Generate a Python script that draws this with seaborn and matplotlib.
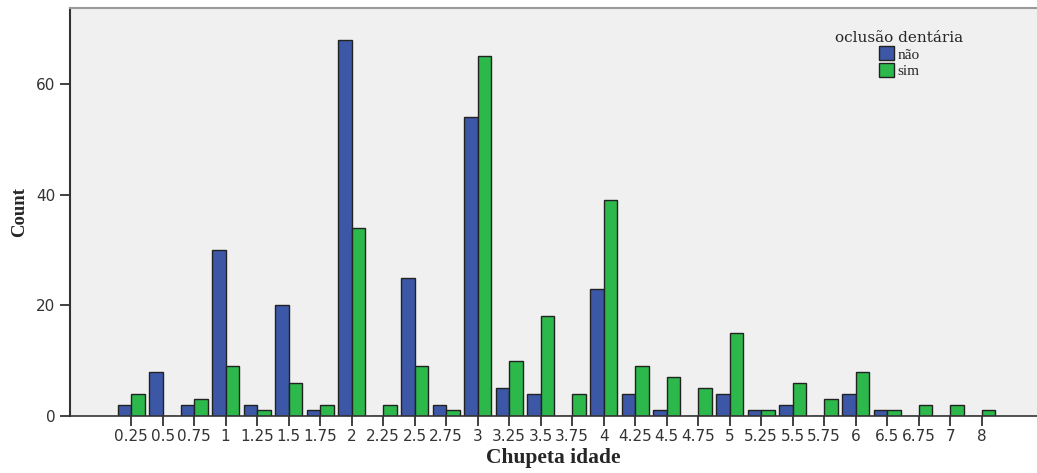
import matplotlib
matplotlib.use('Agg')
import matplotlib.pyplot as plt
import pandas as pd
import seaborn as sns

ages = ['0.25', '0.5', '0.75', '1', '1.25', '1.5', '1.75', '2', '2.25', '2.5',
        '2.75', '3', '3.25', '3.5', '3.75', '4', '4.25', '4.5', '4.75', '5',
        '5.25', '5.5', '5.75', '6', '6.5', '6.75', '7', '8']
nao = [2, 8, 2, 30, 2, 20, 1, 68, 0, 25, 2, 54, 5, 4, 0, 23, 4, 1, 0, 4,
       1, 2, 0, 4, 1, 0, 0, 0]
sim = [4, 0, 3, 9, 1, 6, 2, 34, 2, 9, 1, 65, 10, 18, 4, 39, 9, 7, 5, 15,
       1, 6, 3, 8, 1, 2, 2, 1]
groups = ['não', 'sim']
colors = ['#3d57a7', '#2db84b']

df = pd.DataFrame({
    'idade': ages * 2,
    'count': nao + sim,
    'oclusão dentária': ['não'] * len(ages) + ['sim'] * len(ages),
})

sns.set_style('white')
fig = plt.figure(figsize=(10.37, 4.73), dpi=100)
ax = fig.add_axes([70 / 1037, 1 - 416 / 473, 967 / 1037, 408 / 473])
ax.set_facecolor('#f0f0f0')

sns.barplot(data=df, x='idade', y='count', hue='oclusão dentária',
            order=ages, hue_order=groups, palette=colors, width=0.86,
            edgecolor='#222222', linewidth=1.0, saturation=1, ax=ax)

ax.set_xlim(-1.94, 28.76)
ax.set_ylim(0, 73.7)
ax.set_yticks([0, 20, 40, 60])
ax.tick_params(axis='both', direction='out', length=7, width=1.3,
               bottom=True, left=True,
               color='#333333', labelsize=11, labelcolor='#333333')
ax.tick_params(axis='x', pad=2)
for name, sp in ax.spines.items():
    sp.set_color('#333333')
ax.spines['right'].set_visible(False)
ax.spines['left'].set_linewidth(1.5)
ax.spines['bottom'].set_linewidth(1.2)
ax.spines['top'].set_color('#999999')
ax.spines['top'].set_linewidth(1.5)

ax.set_xlabel('Chupeta idade', fontsize=15.5, fontweight='bold',
              family='Liberation Serif', labelpad=3)
ax.set_ylabel('Count', fontsize=13.5, fontweight='bold',
              family='Liberation Serif', labelpad=6)

leg = ax.legend(title='oclusão dentária', loc='upper left',
                bbox_to_anchor=(0.78, 0.97), frameon=False,
                prop={'family': 'Liberation Serif', 'size': 11},
                handlelength=1.0, handleheight=1.0, handletextpad=0.2,
                labelspacing=0.1, borderpad=0.2)
leg.get_title().set_family('DejaVu Serif')
leg.get_title().set_fontsize(11)
leg._legend_box.align = 'center'

fig.savefig('out.png', dpi=100)
